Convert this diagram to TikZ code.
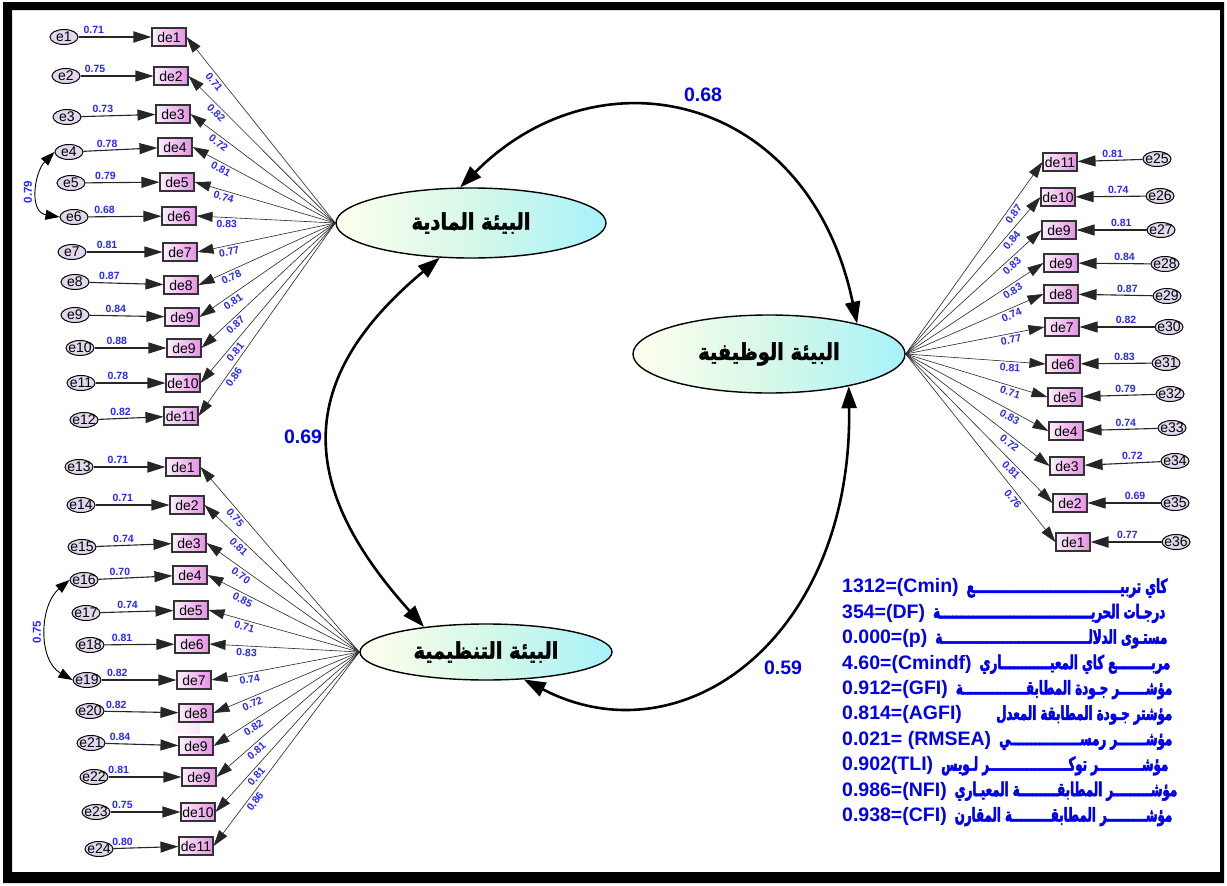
\documentclass[tikz,border=0pt]{standalone}
\usepackage{fontspec}
\setmainfont{Liberation Sans}
\newfontfamily\arabichead[Script=Arabic, FakeStretch=0.84, FakeBold=2]{DejaVu Sans}
\newfontfamily\arabicstat[Script=Arabic, FakeStretch=0.62, FakeBold=2.5]{DejaVu Sans}
\TeXXeTstate=1
\usetikzlibrary{arrows.meta,shapes.geometric}

\definecolor{coefblue}{RGB}{40,40,250}
\definecolor{mainblue}{RGB}{0,0,240}
\definecolor{latleft}{RGB}{255,255,238}
\definecolor{latmid}{RGB}{214,248,232}
\definecolor{latright}{RGB}{168,242,250}
\definecolor{boxleft}{RGB}{253,238,253}
\definecolor{boxright}{RGB}{228,146,228}
\definecolor{errfill}{RGB}{226,216,238}

\tikzset{
  latent/.style={ellipse, draw=black, line width=1.4pt, left color=latleft,
    right color=latright, middle color=latmid, inner sep=0pt,
    font=\arabichead\bfseries\fontsize{23}{24}\selectfont},
  obs/.style={rectangle, draw=black!80, line width=1.1pt, left color=boxleft,
    right color=boxright, minimum width=34pt, minimum height=18pt, inner sep=0pt,
    font=\fontsize{14}{15}\selectfont},
  err/.style={ellipse, draw=black, line width=1pt, fill=errfill,
    minimum width=28pt, minimum height=15pt, inner sep=0pt,
    font=\fontsize{14}{15}\selectfont},
  eline/.style={draw=black!85, -{Triangle[length=18pt,width=11pt]}},
  loadline/.style={draw=black!85, line width=0.6pt, -{Triangle[length=16pt,width=10pt]}},
  maincov/.style={draw=black, line width=2.6pt,
    {Triangle[length=22pt,width=15pt]}-{Triangle[length=22pt,width=15pt]}},
  errcov/.style={draw=black, line width=0.9pt,
    {Triangle[length=14pt,width=10pt]}-{Triangle[length=14pt,width=10pt]}},
  coef/.style={text=coefblue, inner sep=0.5pt, font=\bfseries\fontsize{10.5}{11}\selectfont},
  bigcoef/.style={text=mainblue, inner sep=0pt, font=\bfseries\fontsize{19.5}{20}\selectfont},
  stat/.style={text=mainblue, inner sep=0pt, anchor=west, font=\bfseries\fontsize{19.5}{20}\selectfont},
}
% elongation (kashida) that fills the free width of a line
\newcommand\kashfill[1]{\xleaders\hbox{ـ}\hskip 0pt plus #1fil}
% one line of fit indices: width, Latin part, Arabic part
\newcommand\statline[3]{\hbox to #1{#2\hskip 8pt{\arabicstat\fontsize{19}{20}\selectfont #3}}}

\begin{document}
\begin{tikzpicture}[x=1pt,y=-1pt]
\useasboundingbox (0,0) rectangle (1227,886);
\fill[white] (0,0) rectangle (1227,886);
% outer frame
\fill[black, even odd rule] (3,2) rectangle (1224,883) (12,10) rectangle (1220,872);

% latent factors
\node[latent, minimum width=270pt, minimum height=70pt] (BM) at (471,223) {\beginR البيئة المادية\endR};
\node[latent, minimum width=252pt, minimum height=56pt] (BT) at (486,652) {\beginR البيئة التنظيمية\endR};
\node[latent, minimum width=272pt, minimum height=78pt] (BW) at (769,354) {\beginR البيئة الوظيفية\endR};

% faint box shadow below an indicator
\shade[left color=white, right color=boxright!40, opacity=0.6] (167,717) rectangle (200,733);

% first factor indicators
\foreach \i/\ex/\ey/\dx/\dy/\dn/\ev/\ep/\lv/\lw in {
 1/64/37/169/37/de1/0.71/.21/0.71/1.9,
 2/66/76/171/76/de2/0.75/.20/0.82/1.1,
 3/67/117/173/114/de3/0.73/.29/0.72/1.1,
 4/69/152/175/147/de4/0.78/.32/0.81/1.1,
 5/71/183/177/182/de5/0.79/.27/0.74/1.1,
 6/74/217/179/216/de6/0.68/.22/0.83/1.1,
 7/72/252/180/252/de7/0.81/.27/0.77/1.1,
 8/75/282/181/285/de8/0.87/.27/0.78/1.1,
 9/75/315/182/317/de9/0.84/.35/0.81/1.1,
 10/80/348/184/348/de9/0.88/.31/0.87/1.1,
 11/81/383/183/383/de10/0.78/.32/0.81/1.1,
 12/84/420/181/416/de11/0.82/.34/0.86/1.1}
{
  \node[obs] (d\i) at (\dx,\dy) {\dn};
  \node[err] (e\i) at (\ex,\ey) {\makebox[14pt]{e\i}};
  \draw[eline, line width=\lw pt] (e\i) -- node[coef, above=2pt, pos=\ep] {\ev} (d\i);
  \draw[loadline] (BM.west) -- node[coef, sloped, below=2pt, pos=0.78] {\lv} (d\i.east);
}

% second factor indicators
\foreach \i/\ex/\ey/\dx/\dy/\dn/\ev/\ep/\lv/\lw in {
 13/79/467/183/467/de1/0.71/.34/0.75/1.6,
 14/81/505/187/505/de2/0.71/.37/0.81/1.1,
 15/82/547/189/543/de3/0.74/.36/0.70/1.1,
 16/84/580/190/575/de4/0.70/.29/0.85/1.1,
 17/86/613/191/610/de5/0.74/.37/0.71/1.1,
 18/90/645/192/644/de6/0.81/.25/0.83/1.1,
 19/87/680/194/680/de7/0.82/.21/0.74/1.1,
 20/90/711/196/713/de8/0.82/.16/0.72/1.1,
 21/91/743/196/746/de9/0.84/.20/0.82/1.1,
 22/94/777/199/777/de9/0.81/.14/0.81/1.1,
 23/96/812/198/812/de10/0.75/.17/0.81/1.1,
 24/99/849/196/846/de11/0.80/.14/0.86/1.1}
{
  \node[obs] (d\i) at (\dx,\dy) {\dn};
  \node[err] (e\i) at (\ex,\ey) {\makebox[14pt]{e\i}};
  \draw[eline, line width=\lw pt] (e\i) -- node[coef, above=2pt, pos=\ep] {\ev} (d\i);
  \draw[loadline] (BT.west) -- node[coef, sloped, below=2pt, pos=0.75] {\lv} (d\i.east);
}

% third factor indicators
\foreach \i/\ex/\ey/\dx/\dy/\dn/\ev/\ep/\lv/\lw in {
 25/1157/159/1060/162/de11/0.81/.46/0.87/1.1,
 26/1160/196/1058/197/de10/0.74/.39/0.84/1.1,
 27/1161/230/1059/230/de9/0.81/.36/0.83/1.1,
 28/1165/264/1061/263/de9/0.84/.36/0.83/1.1,
 29/1167/296/1061/294/de8/0.87/.34/0.74/1.1,
 30/1169/327/1062/327/de7/0.82/.38/0.77/1.1,
 31/1166/363/1063/364/de6/0.83/.38/0.81/1.1,
 32/1170/394/1065/397/de5/0.79/.41/0.71/1.1,
 33/1172/428/1066/431/de4/0.74/.43/0.83/1.1,
 34/1175/461/1067/466/de3/0.72/.37/0.72/1.1,
 35/1175/503/1070/503/de2/0.69/.35/0.81/1.1,
 36/1176/542/1073/542/de1/0.77/.48/0.76/1.9}
{
  \node[obs] (d\i) at (\dx,\dy) {\dn};
  \node[err] (e\i) at (\ex,\ey) {\makebox[14pt]{e\i}};
  \draw[eline, line width=\lw pt] (e\i) -- node[coef, above=2pt, pos=\ep] {\ev} (d\i);
  \draw[loadline] (BW.east) -- node[coef, sloped, below=2pt, pos=0.75] {\lv} (d\i.west);
}

% error covariances
\draw[errcov] (e4.west) .. controls +(-20,20) and +(-31,-5) .. (e6.west);
\draw[errcov] (e16.west) .. controls +(-30,25) and +(-35,-20) .. (e19.west);
\node[coef, rotate=90, font=\bfseries\fontsize{11.5}{12}\selectfont] (c79) at (28,192) {0.79};
\node[coef, rotate=90, font=\bfseries\fontsize{11.5}{12}\selectfont] (c75) at (37,632) {0.75};

% factor correlations
\draw[maincov] (BM.107) .. controls +(140,-141) and +(-48,-230) .. (BW.19);
\draw[maincov] (BM.228) .. controls +(-146,122) and +(-127,-141) .. (BT.158);
\draw[maincov] (BW.338) .. controls +(4,250) and +(160,83) .. (BT.324);
\node[bigcoef] (r68) at (703,95) {0.68};
\node[bigcoef] (r69) at (303,437) {0.69};
\node[bigcoef] (r59) at (783,668) {0.59};

% fit indices
\node[stat] (s1) at (842,588) {\statline{325pt}{1312=(Cmin)}{\beginR كاي تربيـ\kashfill{1}ـع\endR}};
\node[stat] (s2) at (842,613.4) {\statline{323pt}{354=(DF)}{\beginR درجـات الحريـ\kashfill{1}ـة\endR}};
\node[stat] (s3) at (842,638.8) {\statline{325pt}{0.000=(p)}{\beginR مستـوى الدلالـ\kashfill{1}ـة\endR}};
\node[stat] (s4) at (842,664.2) {\statline{328pt}{4.60=(Cmindf)}{\beginR مربـ\kashfill{2}ـع كاي المعيـ\kashfill{3}ـاري\endR}};
\node[stat] (s5) at (842,689.6) {\statline{330pt}{0.912=(GFI)}{\beginR مؤشـ\kashfill{1}ـر جـودة المطابقـ\kashfill{3}ـة\endR}};
\node[stat] (s6) at (842,715) {\hbox to 330pt{0.814=(AGFI)\hfill{\arabicstat\fontsize{19}{20}\selectfont\beginR مؤشتر جـودة المطابقة المعدل\endR}}};
\node[stat] (s7) at (842,740.4) {\statline{330pt}{0.021= (RMSEA)}{\beginR مؤشـ\kashfill{1}ـر رمسـ\kashfill{3}ـي\endR}};
\node[stat] (s8) at (842,765.8) {\statline{326pt}{0.902(TLI)}{\beginR مؤشـ\kashfill{1}ـر توكـ\kashfill{2}ـر لـويس\endR}};
\node[stat] (s9) at (842,791.2) {\statline{335pt}{0.986=(NFI)}{\beginR مؤشـ\kashfill{1}ـر المطابقـ\kashfill{1}ـة المعيـاري\endR}};
\node[stat] (s10) at (842,816.6) {\statline{330pt}{0.938=(CFI)}{\beginR مؤشـ\kashfill{1}ـر المطابقـ\kashfill{1}ـة المقارن\endR}};
\end{tikzpicture}
\end{document}
